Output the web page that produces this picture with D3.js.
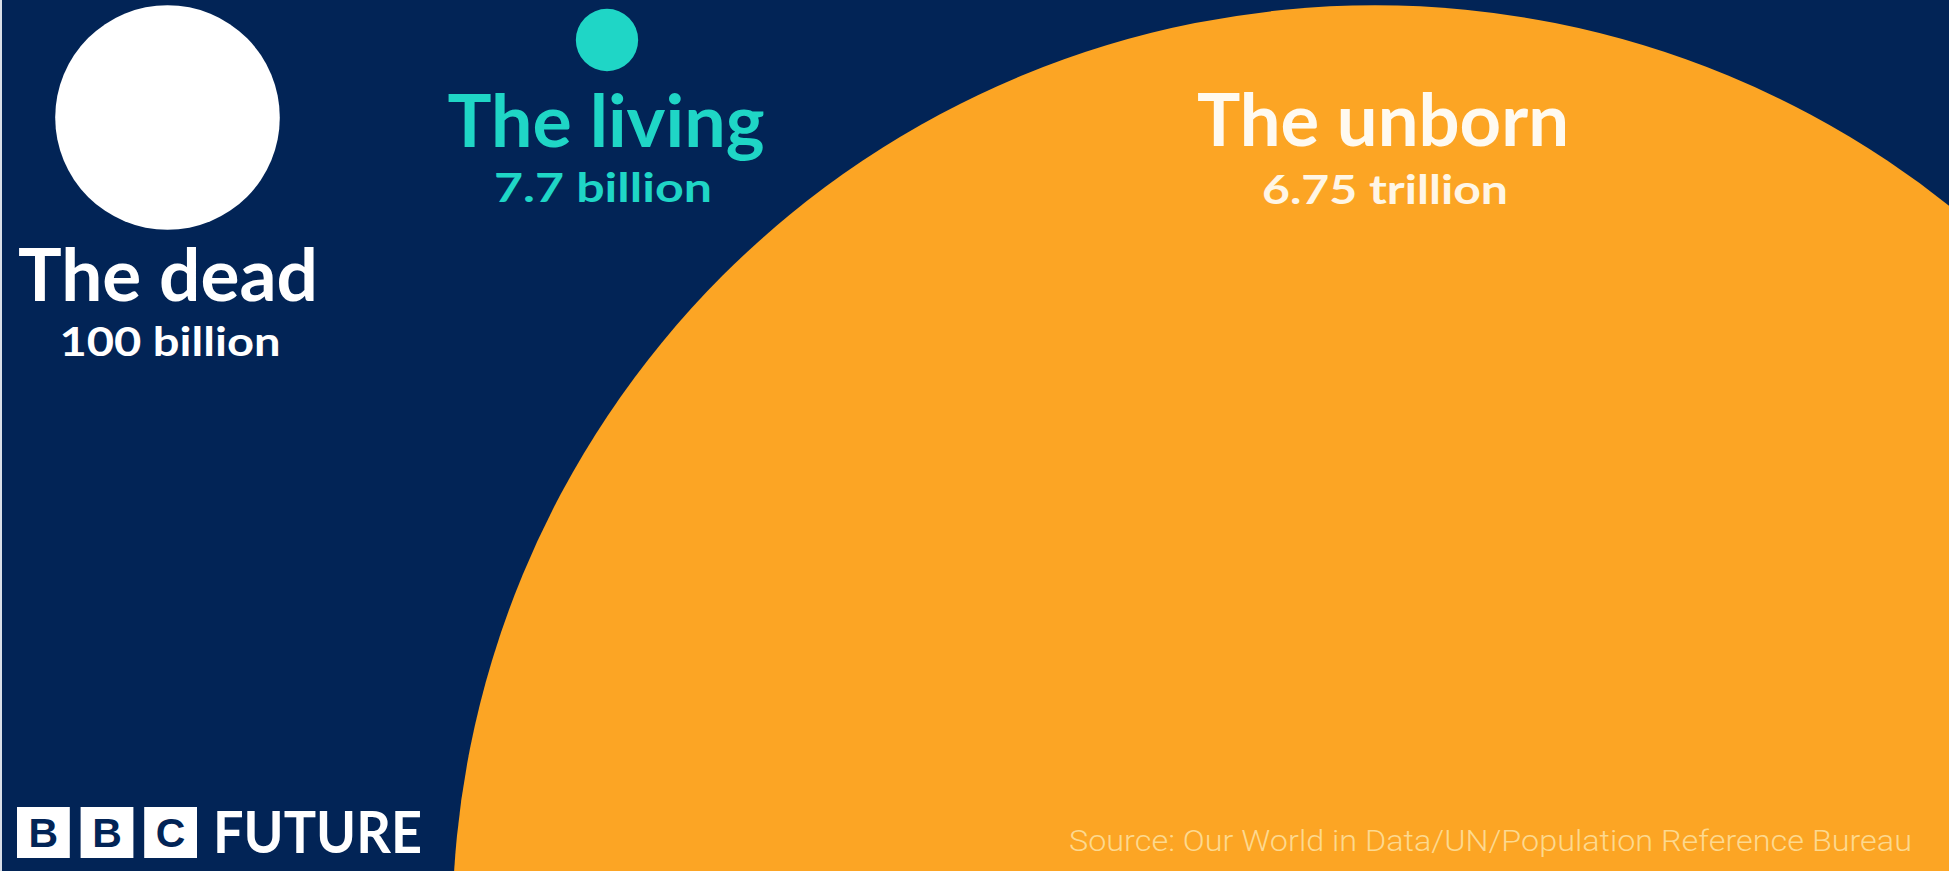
<!DOCTYPE html>
<html>
<head>
<meta charset="utf-8">
<script src="https://cdn.jsdelivr.net/npm/d3@7"></script>
<style>
  html, body { margin: 0; padding: 0; background: #022456; overflow: hidden; }
  svg { display: block; }
</style>
</head>
<body>
<script>
// ---- data ----
const categories = ["The dead", "The living", "The unborn"];
const valuesBillions = [100, 7.7, 6750];
const valueLabels = ["100 billion", "7.7 billion", "6.75 trillion"];
const sourceText = "Source: Our World in Data/UN/Population Reference Bureau";
const logoLetters = ["B", "B", "C"];
const logoWord = "FUTURE";

// ---- layout / style (kept separate from data) ----
const W = 1949, H = 871;
const navy = "#022456";
const circleFill = ["#ffffff", "#1fd6c6", "#fca524"];
const titleFill = ["#ffffff", "#1fd6c6", "#fffaf0"];
const subFill = ["#ffffff", "#1fd6c6", "#fff6e6"];
const centers = [[167.5, 117.5], [607, 40], [1375, 928]];
const titleX = [168, 606, 1383];
const titleY = [301, 147, 146];
const titleW = [300, 317, 372];
const subX = [170, 603, 1385];
const subY = [356, 202, 204];
const subW = [221, 218, 246];

const svg = d3.select("body").append("svg")
  .attr("width", W).attr("height", H);

svg.append("rect").attr("width", W).attr("height", H).attr("fill", navy);
svg.append("rect").attr("width", 2).attr("height", H).attr("fill", "#d9dfe8");

// area-proportional radius scale
const r = d3.scaleSqrt().domain([0, 100]).range([0, 112.3]);

const data = categories.map((c, i) => ({
  name: c, value: valuesBillions[i], label: valueLabels[i], i
}));

// draw largest first
const order = data.slice().sort((a, b) => b.value - a.value);
svg.append("g").selectAll("circle").data(order).join("circle")
  .attr("cx", d => centers[d.i][0])
  .attr("cy", d => centers[d.i][1])
  .attr("r", d => r(d.value))
  .attr("fill", d => circleFill[d.i]);

const font = "Lato, 'Open Sans', 'DejaVu Sans', sans-serif";

svg.append("g").selectAll("text").data(data).join("text")
  .attr("x", d => titleX[d.i])
  .attr("y", d => titleY[d.i])
  .attr("text-anchor", "middle")
  .attr("font-family", font)
  .attr("font-weight", 700)
  .attr("font-size", 73)
  .attr("textLength", d => titleW[d.i])
  .attr("lengthAdjust", "spacingAndGlyphs")
  .attr("fill", d => titleFill[d.i])
  .text(d => d.name);

svg.append("g").selectAll("text").data(data).join("text")
  .attr("x", d => subX[d.i])
  .attr("y", d => subY[d.i])
  .attr("text-anchor", "middle")
  .attr("font-family", font)
  .attr("font-weight", 700)
  .attr("font-size", 41)
  .attr("textLength", d => subW[d.i])
  .attr("lengthAdjust", "spacingAndGlyphs")
  .attr("fill", d => subFill[d.i])
  .text(d => d.label);

// BBC FUTURE logo
const logo = svg.append("g");
const boxX = d3.scaleBand().domain(d3.range(logoLetters.length)).range([17, 197]).paddingInner(0.17);
logo.selectAll("rect").data(logoLetters).join("rect")
  .attr("x", (d, i) => boxX(i))
  .attr("y", 807)
  .attr("width", boxX.bandwidth())
  .attr("height", 51)
  .attr("fill", "#ffffff");
logo.selectAll("text.l").data(logoLetters).join("text")
  .attr("class", "l")
  .attr("x", (d, i) => boxX(i) + boxX.bandwidth() / 2)
  .attr("y", 847)
  .attr("text-anchor", "middle")
  .attr("font-family", "'Liberation Sans', Arial, sans-serif")
  .attr("font-weight", 700)
  .attr("font-size", 41)
  .attr("fill", navy)
  .text(d => d);
logo.append("text")
  .attr("x", 213)
  .attr("y", 853)
  .attr("font-family", font)
  .attr("font-weight", 700)
  .attr("font-size", 57)
  .attr("textLength", 209)
  .attr("lengthAdjust", "spacingAndGlyphs")
  .attr("fill", "#ffffff")
  .text(logoWord);

// source
svg.append("text")
  .attr("x", 1069)
  .attr("y", 851)
  .attr("font-family", "Roboto, 'Liberation Sans', sans-serif")
  .attr("font-weight", 300)
  .attr("font-size", 29)
  .attr("textLength", 843)
  .attr("lengthAdjust", "spacingAndGlyphs")
  .attr("fill", "#fdd98f")
  .text(sourceText);
</script>
</body>
</html>
